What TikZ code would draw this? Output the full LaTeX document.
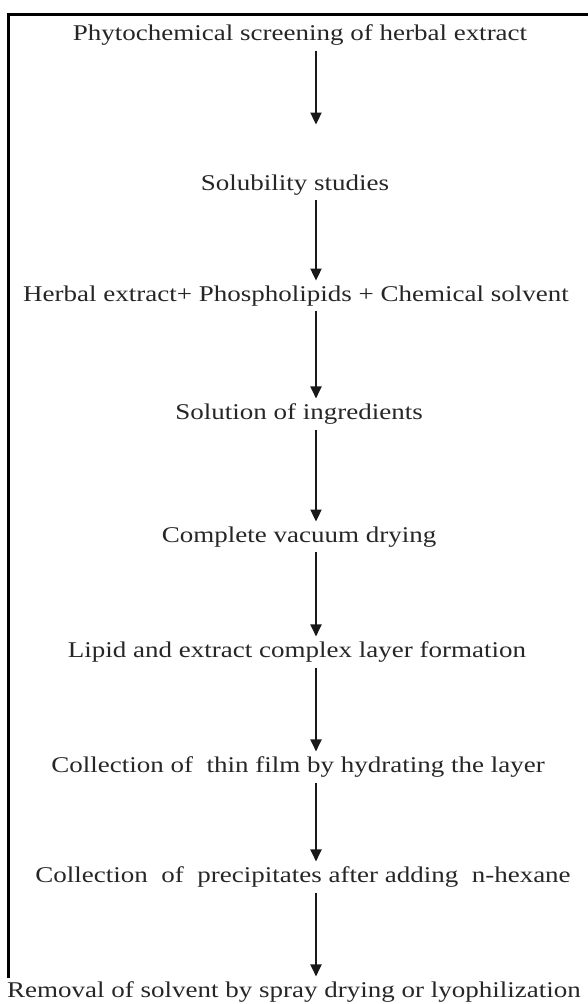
\documentclass[tikz,border=0pt]{standalone}
\usepackage{fontspec}
\setmainfont{Liberation Serif}[FakeStretch=1.2]
\usetikzlibrary{arrows.meta}
\tikzset{
  lbl/.style={font=\fontsize{22.5}{26}\selectfont, text=black!85, inner sep=0pt, anchor=center},
  arr/.style={line width=1.9pt, draw=black!90, -{Triangle[width=11pt,length=12pt]}, shorten <=5pt, shorten >=5pt},
  frame/.style={line width=3pt, draw=black}
}
\begin{document}
\begin{tikzpicture}[x=1pt,y=-1pt]
\useasboundingbox (0,0) rectangle (587,1004);
\draw[frame] (8,978) -- (8,14) -- (590,14);
\coordinate (axis) at (316,0);
\node[lbl] (t1) at (300,35) {Phytochemical screening of herbal extract};
\node[lbl] (t2) at (295,185) {Solubility studies};
\node[lbl] (t3) at (296,296) {Herbal extract+ Phospholipids + Chemical solvent};
\node[lbl] (t4) at (299,414) {Solution of ingredients};
\node[lbl] (t5) at (299,537) {Complete vacuum drying};
\node[lbl] (t6) at (297,652) {Lipid and extract complex layer formation};
\node[lbl] (t7) at (298,767) {Collection of\ \ thin film by hydrating the layer};
\node[lbl] (t8) at (303,877) {Collection\ \ of\ \ precipitates after adding\ \ n-hexane};
\node[lbl] (t9) at (294,992) {Removal of solvent by spray drying or lyophilization};
\draw[arr, shorten >=50pt] (t1.south -| axis) -- (t2.north -| axis);
\draw[arr] (t2.south -| axis) -- (t3.north -| axis);
\draw[arr] (t3.south -| axis) -- (t4.north -| axis);
\draw[arr] (t4.south -| axis) -- (t5.north -| axis);
\draw[arr] (t5.south -| axis) -- (t6.north -| axis);
\draw[arr] (t6.south -| axis) -- (t7.north -| axis);
\draw[arr] (t7.south -| axis) -- (t8.north -| axis);
\draw[arr] (t8.south -| axis) -- (t9.north -| axis);
\end{tikzpicture}
\end{document}
